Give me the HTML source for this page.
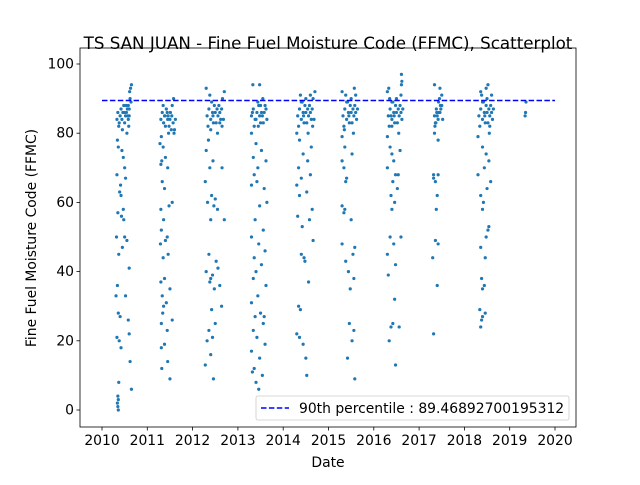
<!DOCTYPE html>
<html><head><meta charset="utf-8"><style>
body{margin:0;background:#fff;}
svg text{font-family:"DejaVu Sans","Liberation Sans",sans-serif;fill:#000;}
</style></head><body>
<svg id="chart" width="640" height="480" xmlns="http://www.w3.org/2000/svg">
<rect width="640" height="480" fill="#fff"/>
<text x="328" y="49" font-size="16.7" text-anchor="middle">TS SAN JUAN - Fine Fuel Moisture Code (FFMC), Scatterplot</text>
<g id="marks"></g>
<g id="axes"></g>
</svg>
<script>
const yTicks=[0,20,40,60,80,100];
const xTicks=[2010,2011,2012,2013,2014,2015,2016,2017,2018,2019,2020];
const percentile90=89.46892700195312;
const y2010=[[.40,85],[.42,87],[.44,84],[.46,86],[.48,88],[.50,83],[.52,85],[.54,86],[.56,87],[.58,84],[.60,85],[.62,90],[.64,89],[.63,93],[.65,94],[.61,92],[.35,86],[.33,84],[.37,82],[.45,81],[.55,80],[.59,82],[.49,86],[.53,88],[.57,85],[.38,83],[.60,87],[.58,88],
[.34,78],[.36,76],[.44,75],[.47,73],[.50,70],[.33,68],[.52,67],[.41,65],[.39,63],[.42,62],[.35,57],[.43,56],[.48,55],[.32,50],[.55,49],[.45,47],[.37,45],[.60,41],[.34,36],[.52,33],[.31,33],[.36,28],[.40,27],[.58,26],[.33,21],[.38,20],[.42,18],[.62,14],[.37,8],[.35,4],[.36,3],[.34,2],[.35,1],[.36,0],[.60,22],[.65,6],[.50,50],[.47,58]];
const y2011=[[.30,84],[.33,86],[.36,83],[.39,85],[.42,87],[.45,84],[.48,82],[.51,86],[.54,85],[.57,83],[.60,81],[.35,88],[.44,86],[.50,84],[.55,88],[.58,90],[.40,82],[.47,80],[.53,81],[.38,85],[.62,84],[.59,80],[.31,79],[.46,85],
[.28,77],[.35,76],[.40,73],[.32,72],[.30,71],[.45,70],[.33,66],[.38,64],[.55,60],[.30,58],[.48,59],[.36,55],[.31,52],[.44,50],[.40,49],[.29,48],[.46,45],[.35,44],[.38,38],[.30,37],[.50,35],[.33,33],[.42,31],[.36,30],[.55,26],[.31,25],[.44,23],[.38,19],[.31,18],[.45,14],[.32,12],[.50,9],[.34,28]];
const y2012=[[.32,85],[.36,87],[.40,84],[.44,86],[.48,88],[.52,83],[.56,85],[.60,86],[.64,87],[.68,84],[.34,82],[.42,89],[.50,86],[.58,88],[.66,90],[.38,91],[.46,83],[.54,87],[.62,84],[.70,92],[.30,93],[.45,85],[.65,82],[.55,80],[.40,81],[.60,83],
[.35,78],[.30,75],[.45,72],[.38,70],[.28,66],[.42,62],[.50,61],[.33,60],[.47,59],[.55,58],[.40,55],[.65,70],[.70,55],[.36,45],[.52,43],[.30,40],[.44,39],[.40,38],[.38,37],[.60,36],[.48,35],[.42,29],[.50,25],[.36,23],[.44,21],[.32,20],[.40,16],[.28,13],[.46,9],[.64,30],[.56,41]];
const y2013=[[.30,85],[.34,87],[.38,84],[.42,86],[.46,88],[.50,83],[.54,85],[.58,86],[.62,87],[.36,82],[.44,89],[.52,86],[.60,88],[.40,84],[.48,85],[.56,83],[.32,86],[.64,84],[.50,88],[.45,82],[.33,94],[.48,94],[.55,90],
[.30,80],[.40,77],[.52,75],[.34,73],[.62,72],[.44,70],[.36,68],[.42,66],[.30,65],[.58,64],[.48,59],[.38,55],[.56,52],[.30,50],[.46,48],[.60,46],[.36,44],[.52,42],[.40,40],[.34,38],[.62,36],[.44,33],[.30,31],[.50,28],[.38,27],[.56,25],[.34,23],[.42,21],[.30,17],[.48,15],[.36,12],[.54,10],[.40,8],[.46,6],[.32,11],[.60,19],[.64,60],[.58,27]];
const y2014=[[.32,85],[.36,87],[.40,84],[.44,86],[.48,88],[.52,83],[.56,85],[.60,86],[.64,87],[.68,84],[.34,82],[.42,89],[.50,86],[.58,88],[.66,90],[.38,91],[.46,83],[.54,87],[.62,84],[.70,92],[.45,85],[.65,82],[.55,80],[.40,89],[.60,91],[.50,90],
[.30,80],[.36,78],[.62,76],[.44,74],[.54,72],[.34,70],[.60,68],[.40,67],[.30,65],[.52,63],[.36,62],[.64,58],[.32,56],[.58,55],[.42,53],[.66,49],[.40,45],[.48,43],[.56,37],[.34,30],[.38,29],[.30,22],[.36,21],[.44,19],[.50,15],[.52,10],[.46,44]];
const y2015=[[.32,85],[.36,87],[.40,84],[.44,86],[.48,88],[.52,83],[.56,85],[.60,86],[.64,87],[.34,82],[.42,89],[.50,86],[.58,88],[.38,91],[.46,83],[.54,87],[.62,84],[.45,85],[.55,80],[.40,89],[.60,91],[.50,90],[.30,92],[.57,93],[.35,81],
[.30,79],[.36,76],[.30,72],[.52,74],[.34,70],[.40,67],[.38,66],[.30,59],[.36,58],[.34,57],[.30,48],[.58,47],[.54,45],[.38,43],[.44,40],[.48,35],[.46,25],[.56,23],[.42,15],[.58,9],[.50,55],[.56,38],[.52,20]];
const y2016=[[.32,85],[.36,87],[.40,84],[.44,86],[.48,88],[.52,83],[.56,85],[.60,86],[.64,87],[.34,82],[.42,89],[.50,86],[.58,88],[.38,85],[.46,83],[.54,87],[.62,84],[.45,85],[.55,80],[.40,89],[.60,91],[.50,90],[.30,92],[.33,93],[.61,97],[.62,95],[.61,94],[.35,90],[.40,82],
[.30,79],[.36,76],[.40,74],[.44,72],[.30,70],[.48,68],[.42,66],[.52,64],[.38,62],[.46,60],[.40,58],[.36,50],[.44,48],[.30,45],[.60,50],[.48,42],[.32,39],[.46,32],[.42,25],[.56,24],[.38,24],[.34,20],[.48,13],[.54,68],[.58,75]];
const y2017=[[.34,85],[.38,87],[.42,84],[.46,86],[.50,88],[.36,83],[.40,85],[.44,86],[.48,87],[.52,84],[.35,82],[.43,89],[.39,86],[.47,88],[.45,90],[.34,94],[.46,93],[.50,91],[.37,83],
[.34,80],[.42,78],[.32,68],[.36,66],[.32,67],[.40,62],[.38,58],[.36,49],[.42,48],[.30,44],[.40,36],[.32,22],[.42,68]];
const y2018=[[.32,85],[.36,87],[.40,84],[.44,86],[.48,88],[.52,83],[.56,85],[.60,86],[.64,87],[.34,82],[.42,89],[.50,86],[.58,88],[.38,91],[.46,83],[.54,87],[.62,84],[.45,85],[.55,80],[.40,89],[.60,91],[.50,90],[.36,92],[.52,94],[.48,93],[.56,82],
[.30,79],[.40,76],[.48,74],[.54,72],[.44,70],[.30,68],[.50,64],[.36,62],[.42,60],[.40,58],[.52,52],[.48,50],[.36,47],[.46,44],[.38,38],[.44,36],[.40,35],[.34,29],[.46,28],[.40,27],[.38,26],[.36,24],[.54,53],[.58,66]];
const y2019=[[.36,89],[.35,86],[.34,85]];
const seasons=[[2010,y2010],[2011,y2011],[2012,y2012],[2013,y2013],[2014,y2014],[2015,y2015],[2016,y2016],[2017,y2017],[2018,y2018],[2019,y2019]];

const L=80,R=576,T=48,B=427;
const X=v=>102+(v-2010)*45.3;
const Y=v=>410-v*3.46;
const NS="http://www.w3.org/2000/svg";
const marks=document.getElementById('marks'), axes=document.getElementById('axes');
function mk(tag,attrs,parent){const e=document.createElementNS(NS,tag);for(const k in attrs)e.setAttribute(k,attrs[k]);parent.appendChild(e);return e;}
seasons.forEach(([yr,pts])=>{pts.forEach(([o,v])=>{
  const c=mk('circle',{cx:X(yr+o),cy:Y(v),r:1.6,fill:'#1f77b4'},marks);
  
  
});});
const pl=mk('line',{x1:X(2010),x2:X(2020),y1:Y(percentile90),y2:Y(percentile90),stroke:'#0000ff','stroke-width':1.5,'stroke-dasharray':'5.5 2.4'},marks);


const frame=mk('rect',{x:L,y:T,width:R-L,height:B-T,fill:'none',stroke:'#000','stroke-width':0.8},axes);


yTicks.forEach(t=>{
  mk('line',{x1:L-3.5,x2:L,y1:Y(t),y2:Y(t),stroke:'#000','stroke-width':0.8},axes);
  const tx=mk('text',{x:L-6,y:Y(t)+4.5,'font-size':13.9,'text-anchor':'end'},axes);tx.textContent=t;
  
  
});
xTicks.forEach(t=>{
  mk('line',{x1:X(t),x2:X(t),y1:B,y2:B+3.5,stroke:'#000','stroke-width':0.8},axes);
  const tx=mk('text',{x:X(t),y:B+18,'font-size':13.9,'text-anchor':'middle'},axes);tx.textContent=t;
  
  
});
const xl=mk('text',{x:328,y:467,'font-size':13.9,'text-anchor':'middle'},axes);xl.textContent='Date';


const yl=mk('text',{x:0,y:0,'font-size':13.9,'text-anchor':'middle',transform:'translate(36,238) rotate(-90)'},axes);yl.textContent='Fine Fuel Moisture Code (FFMC)';


const lg=mk('g',{},axes);


mk('rect',{x:256,y:396,width:313,height:24,rx:2,fill:'#fff','fill-opacity':0.8,stroke:'#ccc','stroke-width':0.8},lg);
mk('line',{x1:261,x2:289,y1:408,y2:408,stroke:'#0000ff','stroke-width':1.5,'stroke-dasharray':'5.5 2.4'},lg);
const lt=mk('text',{x:299,y:413,'font-size':13.9},lg);lt.textContent='90th percentile : 89.46892700195312';


</script>
</body></html>
